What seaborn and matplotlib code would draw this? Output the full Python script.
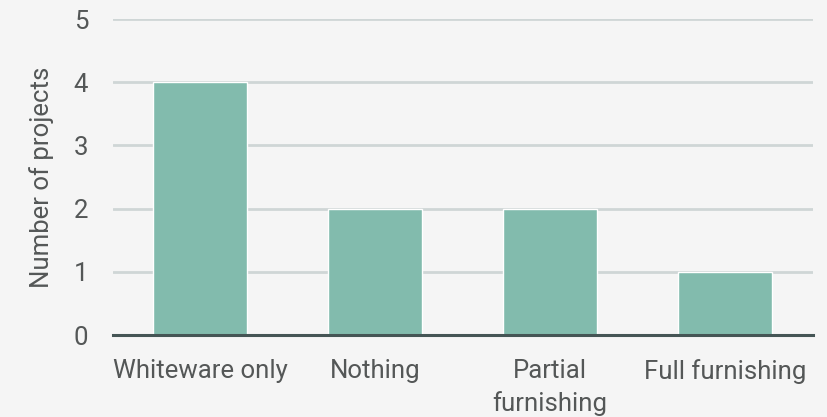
import matplotlib
matplotlib.use("Agg")
import matplotlib.pyplot as plt
import seaborn as sns
import pandas as pd

categories = ["Whiteware only", "Nothing", "Partial\nfurnishing", "Full furnishing"]
projects = [4, 2, 2, 1]
y_ticks = [0, 1, 2, 3, 4, 5]

bg = "#f5f5f5"
bar_color = "#82bbad"
grid_color = "#cfd6d6"
text_color = "#545757"

sns.set_theme(style="white")
plt.rcParams["font.family"] = ["Roboto", "DejaVu Sans"]

df = pd.DataFrame({"category": categories, "projects": projects})

fig = plt.figure(figsize=(8.28, 4.17), dpi=100, facecolor=bg)
ax = fig.add_axes([0.1359, 0.1966, 0.8454, 0.7578], facecolor=bg)

sns.barplot(data=df, x="category", y="projects", color=bar_color,
            saturation=1, width=0.537, ax=ax, zorder=3)

ax.set_ylim(0, 5)
ax.set_xlim(-0.5, len(categories) - 0.5)
ax.set_yticks(y_ticks)
ax.yaxis.grid(True, color=grid_color, linewidth=2, zorder=0)
ax.set_axisbelow(True)
for s in ["top", "right", "left"]:
    ax.spines[s].set_visible(False)
ax.spines["bottom"].set_color("#455555")
ax.spines["bottom"].set_linewidth(2.2)
ax.spines["bottom"].set_zorder(4)

ax.tick_params(axis="both", length=0, labelsize=18.5, labelcolor=text_color)
ax.tick_params(axis="y", pad=17.5)
ax.tick_params(axis="x", pad=17)
for lbl in ax.get_xticklabels():
    lbl.set_linespacing(1.4)
ax.set_xlabel("")
ax.set_ylabel("Number of projects", fontsize=18.5, color=text_color, labelpad=14)

fig.savefig("out.png", dpi=100, facecolor=bg)
